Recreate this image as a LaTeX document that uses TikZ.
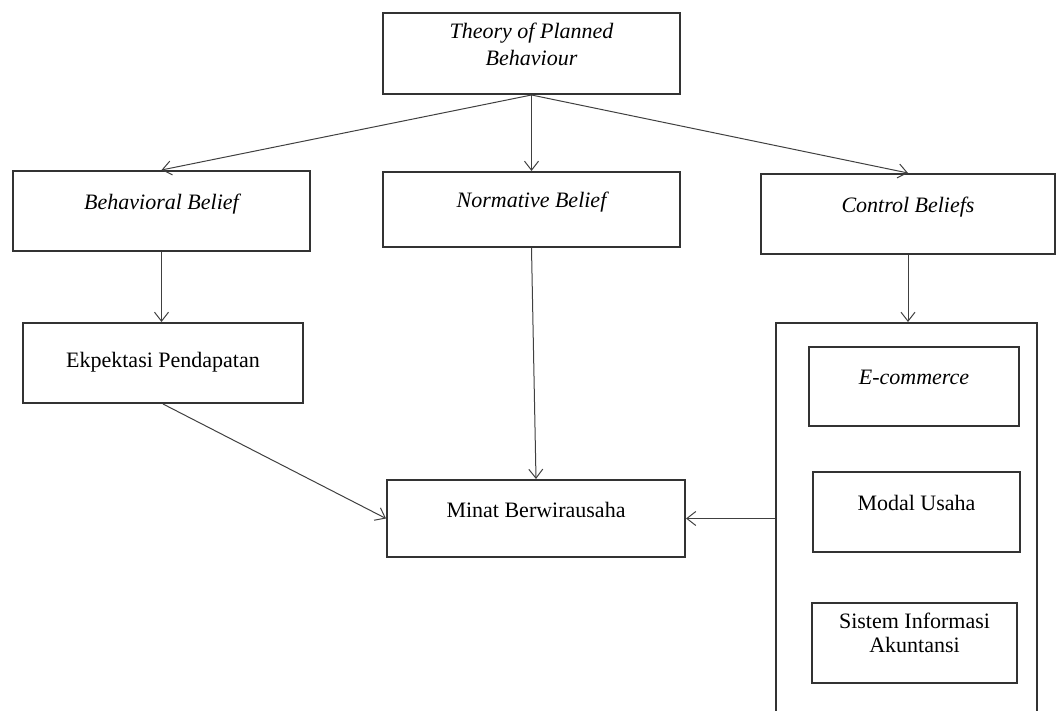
\documentclass[tikz,border=0pt]{standalone}
\usepackage{fontspec}
\setmainfont{Liberation Serif}
\usetikzlibrary{arrows.meta}

\begin{document}
\begin{tikzpicture}[x=0.5pt, y=-0.5pt, line width=0.5pt,
    box/.style={draw=black!80, line width=1pt, fill=white, inner sep=0pt, align=center,
                font=\fontsize{11}{13.5}\selectfont, text height=0.7em, text depth=0.85em},
    ital/.style={font=\fontsize{11}{13.5}\selectfont\itshape},
    flat/.style={text depth=0.2em},
    twoline/.style={text height=, text depth=11pt},
    link/.style={draw=black!75, -{Straight Barb[length=4.5pt, width=7pt]}}]

\useasboundingbox (0, 0) rectangle (1056, 711);

% draw theory and belief boxes
\node[box, ital, twoline, minimum width=148.5pt, minimum height=40.5pt] (tpb) at (531.5, 53.5)
  {\begin{tabular}[b]{@{}c@{}}Theory of Planned\\Behaviour\end{tabular}};
\node[box, ital, minimum width=148.5pt, minimum height=40pt] (behav) at (161.5, 211) {Behavioral Belief};
\node[box, ital, minimum width=148.5pt, minimum height=37.5pt] (norm) at (531.5, 209.5) {Normative Belief};
\node[box, ital, minimum width=147pt, minimum height=40pt] (ctrl) at (908, 214) {Control Beliefs};

% draw variable boxes
\node[box, flat, minimum width=140pt, minimum height=40pt] (ekspek) at (163, 363) {Ekpektasi Pendapatan};
\node[box, minimum width=149pt, minimum height=38.5pt] (minat) at (536, 518.5) {Minat Berwirausaha};

% draw control group (cut off at the bottom)
\begin{scope}
  \clip (0, 0) rectangle (1056, 711);
  \node[box, minimum width=130.5pt, minimum height=218.5pt] (group) at (906.5, 541.5) {};
\end{scope}
\node[box, ital, minimum width=105pt, minimum height=39.5pt] (ecom) at (914, 386.5) {E-commerce};
\node[box, minimum width=103.5pt, minimum height=40pt] (modal) at (916.5, 512) {Modal Usaha};
\node[box, twoline, font=\fontsize{11}{12}\selectfont, minimum width=102.5pt, minimum height=40pt] (sia) at (914.5, 643)
  {\begin{tabular}[b]{@{}c@{}}Sistem Informasi\\Akuntansi\end{tabular}};

% draw arrows
\draw[link] (tpb.south) -- (behav.north);
\draw[link] (tpb.south) -- (norm.north);
\draw[link] (tpb.south) -- (ctrl.north);
\draw[link] (behav.south) -- (behav.south |- ekspek.north);
\draw[link] (ctrl.south) -- (ctrl.south |- group.north);
\draw[link] (norm.south) -- (minat.north);
\draw[link] (ekspek.south) -- (minat.west);
\draw[link] (group.west |- minat.east) -- (minat.east);

\end{tikzpicture}
\end{document}
